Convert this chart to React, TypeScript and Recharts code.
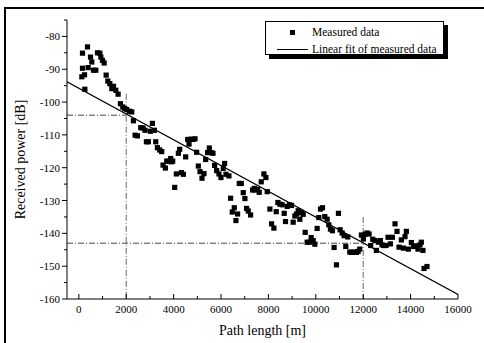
import { ScatterChart, Scatter, XAxis, YAxis, ReferenceLine, Legend } from 'recharts';

const pathLength = [
  154, 154, 126, 239, 253, 365, 393, 492, 548, 618, 716, 787, 885, 927, 997, 1067, 1152, 1222, 1306, 1390,
  1461, 1559, 1657, 1756, 1854, 1938, 2022, 2135, 2233, 2303, 2374, 2472, 2612, 2711, 2795, 2851, 2935, 3020,
  3104, 3188, 3244, 3315, 3413, 3497, 3553, 3652, 3708, 3792, 3876, 3904, 3961, 4045, 4115, 4199, 4256, 4326,
  4410, 4508, 4593, 4649, 4733, 4817, 4902, 4972, 5042, 5112, 5197, 5281, 5351, 5435, 5506, 5576, 5660, 5730,
  5815, 5913, 5997, 6096, 6152, 6208, 6334, 6404, 6474, 6559, 6629, 6699, 6770, 6854, 6938, 7008, 7079, 7149,
  7247, 7331, 7402, 7458, 7542, 7612, 7697, 7809, 7893, 7949, 8062, 8132, 8230, 8329, 8399, 8483, 8581, 8666,
  8722, 8792, 8890, 8975, 9045, 9115, 9185, 9256, 9326, 9396, 9466, 9551, 9635, 9733, 9803, 9888, 9958, 10056,
  10126, 10197, 10281, 10379, 10478, 10548, 10618, 10702, 10772, 10871, 10955, 11025, 11110, 11194, 11264,
  11348, 11433, 11517, 11629, 11713, 11784, 11854, 11924, 12008, 12079, 12163, 12247, 12317, 12402, 12500,
  12556, 12640, 12725, 12795, 12865, 12963, 13048, 13146, 13230, 13343, 13427, 13511, 13610, 13694, 13764,
  13820, 13904, 14031, 14129, 14242, 14312, 14396, 14452, 14522, 14565, 14691,
];
const receivedPower = [
  -85.1, -89.7, -92.3, -91.7, -96.1, -83.2, -89.5, -86.3, -87.8, -90.3, -90.3, -85.0, -85.1, -86.3, -87.3, -88.1,
  -91.8, -93.6, -94.4, -95.9, -95.2, -96.4, -97.6, -100.5, -101.5, -102.0, -102.3, -102.8, -103.0, -105.7,
  -110.1, -110.3, -107.8, -107.9, -108.6, -112.1, -112.1, -108.9, -106.5, -108.6, -112.1, -113.9, -114.6,
  -115.1, -119.2, -120.1, -118.0, -118.0, -117.2, -118.2, -118.0, -126.0, -121.9, -115.6, -114.4, -121.5,
  -122.0, -116.7, -111.4, -112.8, -111.3, -111.4, -111.2, -115.3, -119.5, -121.2, -123.2, -121.8, -117.5,
  -115.4, -114.0, -115.4, -115.6, -119.3, -120.9, -121.9, -123.0, -120.2, -118.7, -122.0, -122.5, -129.3,
  -133.5, -132.2, -136.1, -134.1, -124.8, -124.8, -127.6, -129.4, -132.4, -133.2, -134.4, -126.8, -126.3,
  -126.8, -126.6, -127.5, -124.3, -121.9, -123.0, -127.3, -132.6, -137.1, -138.4, -133.4, -130.6, -131.1,
  -131.3, -133.9, -136.4, -131.8, -131.3, -131.5, -136.6, -134.7, -134.1, -133.1, -135.7, -133.7, -134.2,
  -139.7, -142.7, -142.7, -141.3, -142.2, -143.3, -138.5, -135.2, -132.6, -132.2, -134.9, -135.7, -137.4,
  -138.7, -139.2, -144.3, -149.6, -133.9, -138.9, -139.9, -140.7, -144.0, -141.1, -145.7, -145.8, -145.7,
  -145.8, -145.5, -144.8, -140.5, -141.7, -140.3, -139.9, -140.2, -143.7, -141.8, -142.2, -145.2, -142.7,
  -142.2, -143.5, -143.7, -143.7, -141.2, -143.2, -141.2, -137.1, -139.4, -144.2, -142.0, -144.5, -141.0,
  -139.4, -144.8, -142.8, -144.0, -143.8, -144.8, -143.5, -142.7, -145.2, -150.7, -150.1,
];

// linear fit end points
const fitX = [-500, 16000];
const fitY = [-93.8, -158.6];

// dash-dot guide lines: distance, power at that distance, top of vertical guide
const guideX = [2000, 12000];
const guideY = [-104, -143];
const guideTop = [-97.5, -135];

const xTicks = [0, 1000, 2000, 3000, 4000, 5000, 6000, 7000, 8000, 9000, 10000, 11000, 12000, 13000, 14000, 15000, 16000];
const yTicks = [-160, -155, -150, -145, -140, -135, -130, -125, -120, -115, -110, -105, -100, -95, -90, -85, -80, -75];

const measured = pathLength.map((x, i) => ({ x, y: receivedPower[i] }));
const fit = fitX.map((x, i) => ({ x, y: fitY[i] }));

const FONT = '"Liberation Serif", "Times New Roman", serif';

const Square = (props: any) => {
  const { cx, cy } = props;
  return <rect x={cx - 2.6} y={cy - 2.6} width={5.2} height={5.2} fill="#000" />;
};

const NoMark = () => <g />;

const YTick = (props: any) => {
  const { x, y, payload } = props;
  const major = payload.value % 10 === 0;
  return (
    <g>
      <line x1={x - (major ? 5 : 3)} x2={x} y1={y} y2={y} stroke="#000" />
      {major && (
        <text x={x - 7} y={y} dy={4} textAnchor="end" fontSize={11} fontFamily={FONT} fill="#000">
          {payload.value}
        </text>
      )}
    </g>
  );
};

const XTick = (props: any) => {
  const { x, y, payload } = props;
  const major = payload.value % 2000 === 0;
  return (
    <g>
      <line x1={x} x2={x} y1={y} y2={y - (major ? 5 : 3)} stroke="#000" />
      {major && (
        <text x={x} y={y + 14} textAnchor="middle" fontSize={11} fontFamily={FONT} fill="#000">
          {payload.value}
        </text>
      )}
    </g>
  );
};

const LegendBox = () => (
  <div style={{ position: 'relative', width: 179, height: 34, fontFamily: FONT, fontSize: 11.5 }}>
    <div style={{ position: 'absolute', left: 4, top: 4, width: 179, height: 34, background: '#000' }} />
    <div style={{ position: 'absolute', left: 0, top: 0, width: 177, height: 32, background: '#fff', border: '1px solid #000' }}>
      <div style={{ position: 'absolute', left: 24, top: 8, width: 5, height: 5, background: '#000' }} />
      <div style={{ position: 'absolute', left: 46, top: 2, lineHeight: '16px' }}>Measured data</div>
      <div style={{ position: 'absolute', left: 11, top: 27, width: 31, height: 1, background: '#000' }} />
      <div style={{ position: 'absolute', left: 46, top: 19, lineHeight: '16px', whiteSpace: 'nowrap' }}>
        Linear fit of measured data
      </div>
    </div>
  </div>
);

export default function App() {
  return (
    <div style={{ position: 'absolute', left: 0, top: 0, width: 484, height: 343, background: '#fff' }}>
      <div style={{ position: 'absolute', left: 4, top: 7, width: 480, height: 336, borderTop: '2px solid #000', borderLeft: '2px solid #000' }} />
      <ScatterChart width={484} height={343} margin={{ top: 20, right: 26, bottom: 14, left: 7 }}>
        <XAxis
          type="number"
          dataKey="x"
          domain={[-500, 16000]}
          ticks={xTicks}
          interval={0}
          allowDataOverflow
          height={30}
          stroke="#000"
          tickSize={0}
          tickMargin={0}
          tick={<XTick />}
          label={{
            value: 'Path length [m]',
            content: (p: any) => (
              <text
                x={p.viewBox.x + p.viewBox.width / 2}
                y={p.viewBox.y + 36}
                textAnchor="middle"
                fontSize={14}
                fontFamily={FONT}
                fill="#000"
              >
                Path length [m]
              </text>
            ),
          }}
        />
        <YAxis
          type="number"
          dataKey="y"
          domain={[-160, -75]}
          ticks={yTicks}
          interval={0}
          allowDataOverflow
          width={60}
          stroke="#000"
          tickSize={0}
          tickMargin={0}
          tick={<YTick />}
          label={{
            value: 'Received power [dB]',
            content: (p: any) => {
              const cx = p.viewBox.x + 18;
              const cy = p.viewBox.y + p.viewBox.height / 2;
              return (
                <text
                  x={cx}
                  y={cy}
                  transform={`rotate(-90 ${cx} ${cy})`}
                  textAnchor="middle"
                  fontSize={14}
                  fontFamily={FONT}
                  fill="#000"
                >
                  Received power [dB]
                </text>
              );
            },
          }}
        />
        {guideX.map((gx, i) => (
          <ReferenceLine
            key={`h${i}`}
            segment={[{ x: -500, y: guideY[i] }, { x: gx, y: guideY[i] }]}
            stroke="#444"
            strokeDasharray="6 2 1 2"
          />
        ))}
        {guideX.map((gx, i) => (
          <ReferenceLine
            key={`v${i}`}
            segment={[{ x: gx, y: guideTop[i] }, { x: gx, y: -160 }]}
            stroke="#666"
            strokeDasharray="6 2 1 2"
          />
        ))}
        <Scatter name="Measured data" data={measured} shape={<Square />} isAnimationActive={false} />
        <Scatter
          name="Linear fit of measured data"
          data={fit}
          line={{ stroke: '#000', strokeWidth: 1.2 }}
          shape={<NoMark />}
          isAnimationActive={false}
        />
        <Legend
          layout="vertical"
          align="center"
          verticalAlign="middle"
          content={() => <LegendBox />}
          wrapperStyle={{ position: 'absolute', left: 265, top: 21, width: 183, height: 38 }}
        />
      </ScatterChart>
    </div>
  );
}
